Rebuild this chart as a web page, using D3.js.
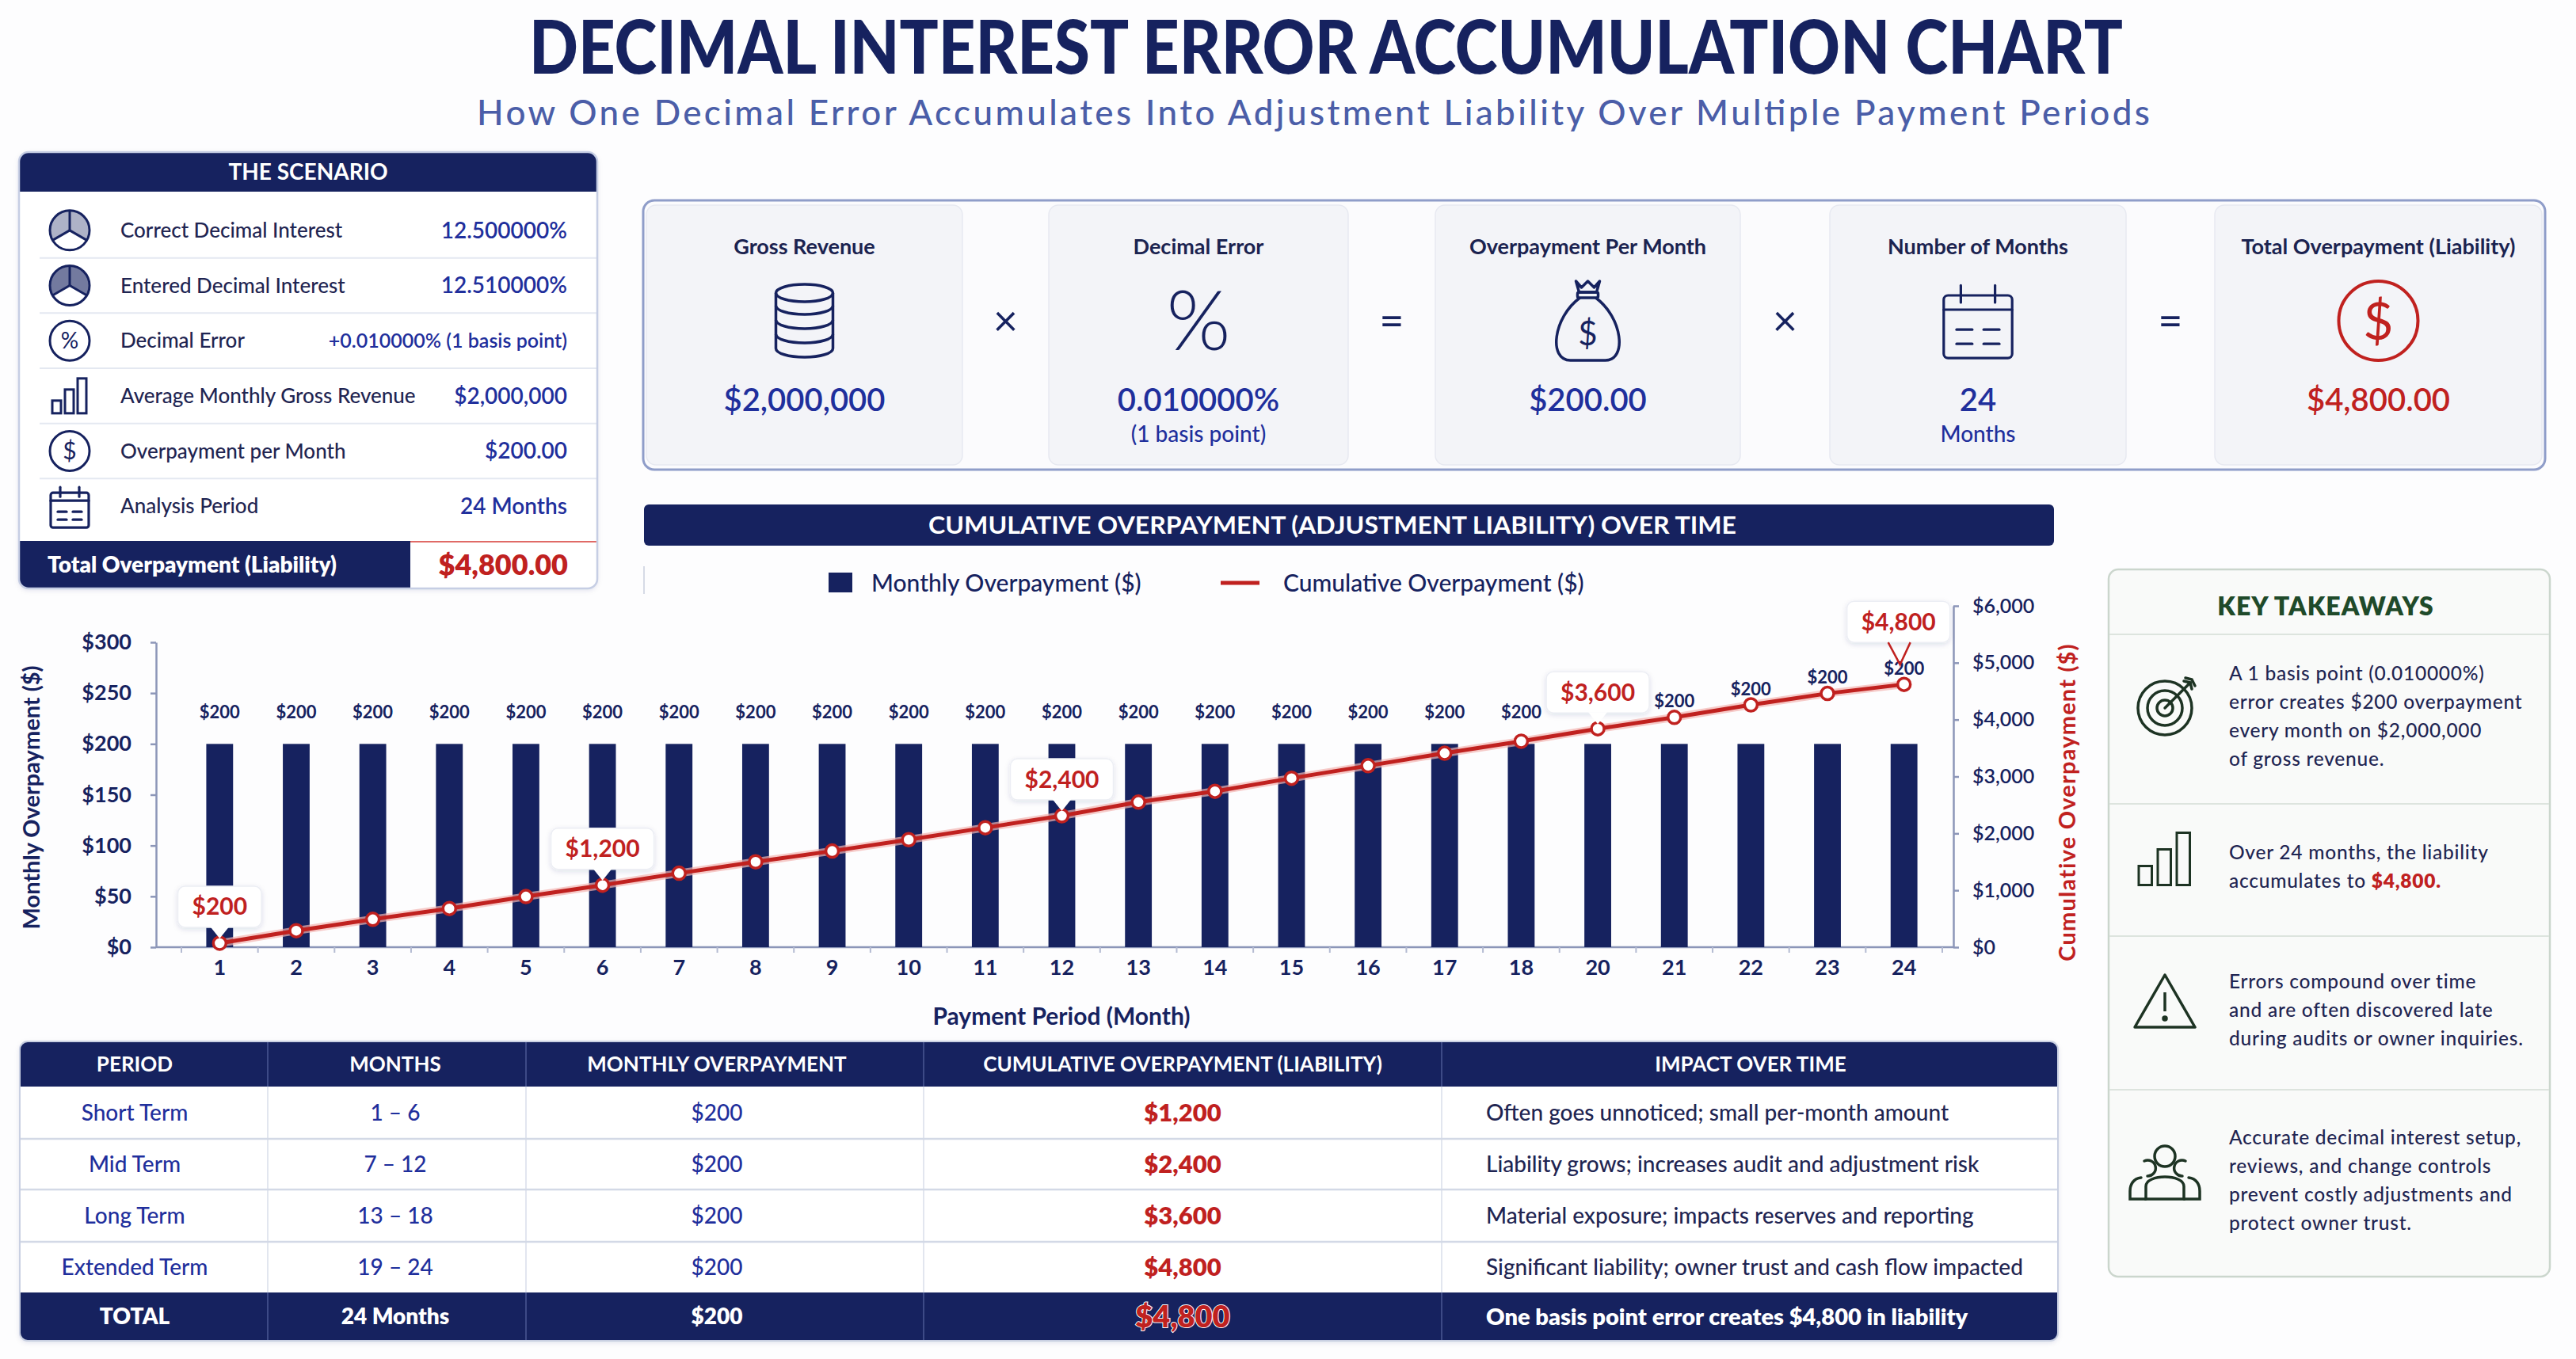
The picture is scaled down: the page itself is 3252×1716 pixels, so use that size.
<!DOCTYPE html>
<html>
<head>
<meta charset="utf-8">
<script src="https://cdn.jsdelivr.net/npm/d3@7/dist/d3.min.js"></script>
<style>
  body { margin: 0; background: #fdfdfe; }
  svg { display: block; }
</style>
</head>
<body>
<script>
// ---- data ----
const titleText = "DECIMAL INTEREST ERROR ACCUMULATION CHART";
const subtitleText = "How One Decimal Error Accumulates Into Adjustment Liability Over Multiple Payment Periods";

const scenarioLabels = ["Correct Decimal Interest", "Entered Decimal Interest", "Decimal Error",
  "Average Monthly Gross Revenue", "Overpayment per Month", "Analysis Period"];
const scenarioValues = ["12.500000%", "12.510000%", "+0.010000% (1 basis point)",
  "$2,000,000", "$200.00", "24 Months"];
const scenarioTotal = ["Total Overpayment (Liability)", "$4,800.00"];

const formulaTitles = ["Gross Revenue", "Decimal Error", "Overpayment Per Month", "Number of Months", "Total Overpayment (Liability)"];
const formulaValues = ["$2,000,000", "0.010000%", "$200.00", "24", "$4,800.00"];
const formulaNotes = ["", "(1 basis point)", "", "Months", ""];
const formulaOps = ["×", "=", "×", "="];

const chartTitle = "CUMULATIVE OVERPAYMENT (ADJUSTMENT LIABILITY) OVER TIME";
const months = ["1","2","3","4","5","6","7","8","9","10","11","12","13","14","15","16","17","18","20","21","22","23","24"];
const monthlyOverpayment = [200,200,200,200,200,200,200,200,200,200,200,200,200,200,200,200,200,200,200,200,200,200,200];
const cumulativeOverpayment = [70,290,490,680,890,1090,1300,1500,1690,1890,2100,2310,2550,2740,2970,3190,3410,3620,3840,4040,4260,4460,4620];
const calloutMonths = ["1","6","12","20","24"];
const calloutLabels = ["$200","$1,200","$2,400","$3,600","$4,800"];
const leftTicks = [0,50,100,150,200,250,300];
const rightTicks = [0,1000,2000,3000,4000,5000,6000];
const seriesNames = ["Monthly Overpayment ($)", "Cumulative Overpayment ($)"];

const takeawayLines = [
  ["A 1 basis point (0.010000%)", "error creates $200 overpayment", "every month on $2,000,000", "of gross revenue."],
  ["Over 24 months, the liability", "accumulates to $4,800."],
  ["Errors compound over time", "and are often discovered late", "during audits or owner inquiries."],
  ["Accurate decimal interest setup,", "reviews, and change controls", "prevent costly adjustments and", "protect owner trust."]
];
const takeawayHighlight = "$4,800.";

const tableHeaders = ["PERIOD", "MONTHS", "MONTHLY OVERPAYMENT", "CUMULATIVE OVERPAYMENT (LIABILITY)", "IMPACT OVER TIME"];
const tablePeriods = ["Short Term", "Mid Term", "Long Term", "Extended Term"];
const tableMonths = ["1 – 6", "7 – 12", "13 – 18", "19 – 24"];
const tableMonthly = ["$200", "$200", "$200", "$200"];
const tableCumulative = ["$1,200", "$2,400", "$3,600", "$4,800"];
const tableImpact = ["Often goes unnoticed; small per-month amount",
  "Liability grows; increases audit and adjustment risk",
  "Material exposure; impacts reserves and reporting",
  "Significant liability; owner trust and cash flow impacted"];
const tableTotal = ["TOTAL", "24 Months", "$200", "$4,800", "One basis point error creates $4,800 in liability"];

// ---- styles ----
const NAVY = "#16225f";
const BLUE = "#1f2f9c";
const INK = "#1f2552";
const RED = "#c0211f";
const GREEN = "#1f4a2a";
const FONT = "Lato, 'Noto Sans', sans-serif";

const svg = d3.select("body").append("svg")
  .attr("width", 3252).attr("height", 1716)
  .style("font-family", FONT);
svg.append("rect").attr("width", 3252).attr("height", 1716).attr("fill", "#fdfdfe");

const defs = svg.append("defs");
defs.append("filter").attr("id", "shadow").attr("x", "-20%").attr("y", "-20%").attr("width", "140%").attr("height", "140%")
  .append("feDropShadow").attr("dx", 0).attr("dy", 2).attr("stdDeviation", 3)
  .attr("flood-color", "#1a2366").attr("flood-opacity", 0.13);

function txt(g, x, y, s, size, weight, fill, anchor) {
  return g.append("text").attr("x", x).attr("y", y).attr("dy", "0.35em")
    .attr("font-size", size).attr("font-weight", weight).attr("fill", fill)
    .attr("text-anchor", anchor || "start").text(s);
}

// ---- icons ----
function iconPie(g, cx, cy, r, shade) {
  const t = g.append("g").attr("transform", `translate(${cx},${cy})`);
  const arc = d3.arc().innerRadius(0).outerRadius(r);
  t.append("path").attr("d", arc({ startAngle: -2 * Math.PI / 3, endAngle: 2 * Math.PI / 3 }))
    .attr("fill", NAVY).attr("fill-opacity", shade);
  t.append("circle").attr("r", r).attr("fill", "none").attr("stroke", NAVY).attr("stroke-width", 3);
  [0, 2 * Math.PI / 3, -2 * Math.PI / 3].forEach(a =>
    t.append("line").attr("x2", r * Math.sin(a)).attr("y2", -r * Math.cos(a))
      .attr("stroke", NAVY).attr("stroke-width", 3));
}
function iconCircleGlyph(g, cx, cy, r, glyph, color, fs, sw) {
  g.append("circle").attr("cx", cx).attr("cy", cy).attr("r", r)
    .attr("fill", "none").attr("stroke", color).attr("stroke-width", sw);
  g.append("text").attr("x", cx).attr("y", cy).attr("dy", "0.36em").attr("text-anchor", "middle")
    .attr("font-size", fs).attr("font-weight", 400).attr("fill", color).text(glyph);
}
function iconBars(g, cx, cy, s, color) {
  const t = g.append("g").attr("transform", `translate(${cx},${cy}) scale(${s})`);
  [[-22, 6, 16], [-6, -8, 30], [10, -22, 44]].forEach(([x0, y0, h]) =>
    t.append("rect").attr("x", x0).attr("y", y0).attr("width", 11).attr("height", h)
      .attr("fill", "none").attr("stroke", color).attr("stroke-width", 3 / s));
}
function iconCalendar(g, cx, cy, s, color) {
  const t = g.append("g").attr("transform", `translate(${cx},${cy}) scale(${s})`)
    .attr("fill", "none").attr("stroke", color).attr("stroke-width", 3.2 / s).attr("stroke-linecap", "round");
  t.append("rect").attr("x", -24).attr("y", -20).attr("width", 48).attr("height", 44).attr("rx", 3);
  t.append("line").attr("x1", -24).attr("x2", 24).attr("y1", -10).attr("y2", -10);
  [-12, 12].forEach(v => t.append("line").attr("x1", v).attr("x2", v).attr("y1", -27).attr("y2", -15));
  [4, 14].forEach(v => {
    t.append("line").attr("x1", -15).attr("x2", -4).attr("y1", v).attr("y2", v);
    t.append("line").attr("x1", 4).attr("x2", 15).attr("y1", v).attr("y2", v);
  });
}
function iconDatabase(g, cx, cy, color) {
  const t = g.append("g").attr("transform", `translate(${cx},${cy})`)
    .attr("fill", "none").attr("stroke", color).attr("stroke-width", 3.5);
  t.append("ellipse").attr("cx", 0).attr("cy", -35).attr("rx", 36).attr("ry", 11);
  [-17, 1, 19, 37].forEach(v => t.append("path").attr("d", `M-36,${v - 2} A36 11 0 0 0 36,${v - 2}`));
  t.append("line").attr("x1", -36).attr("x2", -36).attr("y1", -35).attr("y2", 35);
  t.append("line").attr("x1", 36).attr("x2", 36).attr("y1", -35).attr("y2", 35);
}
function iconBag(g, cx, cy, color) {
  const t = g.append("g").attr("transform", `translate(${cx},${cy})`)
    .attr("fill", "none").attr("stroke", color).attr("stroke-width", 3.5).attr("stroke-linejoin", "round");
  t.append("path").attr("d", "M-15,-50 L-8,-42 L0,-50 L8,-42 L15,-50 L11,-36 L-11,-36 Z");
  t.append("rect").attr("x", -13).attr("y", -36).attr("width", 26).attr("height", 7).attr("rx", 2);
  t.append("path").attr("d", "M-10,-29 C-44,-4 -50,50 -22,50 L22,50 C50,50 44,-4 10,-29");
  t.append("text").attr("x", 0).attr("y", 16).attr("dy", "0.36em").attr("text-anchor", "middle")
    .attr("stroke", "none").attr("fill", color).attr("font-size", 42).text("$");
}
function iconTarget(g, cx, cy, color) {
  const t = g.append("g").attr("transform", `translate(${cx},${cy})`)
    .attr("fill", "none").attr("stroke", color).attr("stroke-width", 3.5).attr("stroke-linecap", "round");
  [34, 22, 10].forEach(r => t.append("circle").attr("r", r));
  t.append("line").attr("x1", 0).attr("y1", 0).attr("x2", 32).attr("y2", -32);
  t.append("path").attr("d", "M24,-34 L32,-32 L34,-24 M26,-38 L34,-36 L38,-28");
}
function iconWarning(g, cx, cy, color) {
  const t = g.append("g").attr("transform", `translate(${cx},${cy})`)
    .attr("fill", "none").attr("stroke", color).attr("stroke-width", 3.5).attr("stroke-linejoin", "round");
  t.append("path").attr("d", "M0,-34 L38,32 L-38,32 Z");
  t.append("line").attr("x1", 0).attr("x2", 0).attr("y1", -12).attr("y2", 12);
  t.append("circle").attr("cx", 0).attr("cy", 21).attr("r", 2).attr("fill", color);
}
function iconPeople(g, cx, cy, color) {
  const t = g.append("g").attr("transform", `translate(${cx},${cy})`)
    .attr("fill", "none").attr("stroke", color).attr("stroke-width", 3.5).attr("stroke-linecap", "round");
  t.append("circle").attr("cx", 0).attr("cy", -20).attr("r", 13);
  t.append("path").attr("d", "M-24,34 L-24,18 C-24,2 24,2 24,18 L24,34 Z");
  t.append("path").attr("d", "M-26,-14 A10,10 0 1 1 -22,5");
  t.append("path").attr("d", "M26,-14 A10,10 0 1 0 22,5");
  t.append("path").attr("d", "M-30,7 C-40,8 -44,16 -44,24 L-44,34 L-24,34");
  t.append("path").attr("d", "M30,7 C40,8 44,16 44,24 L44,34 L24,34");
}

// ---- title ----
svg.append("text").attr("x", 1674).attr("y", 93).attr("text-anchor", "middle")
  .attr("font-size", 93).attr("font-weight", 900).attr("fill", NAVY)
  .attr("textLength", 2012).attr("lengthAdjust", "spacingAndGlyphs").text(titleText);
svg.append("text").attr("x", 1658).attr("y", 158).attr("text-anchor", "middle")
  .attr("font-size", 44).attr("font-weight", 500).attr("fill", "#4b5ea8")
  .attr("textLength", 2112).attr("lengthAdjust", "spacing").text(subtitleText);

// ---- scenario panel ----
const scen = svg.append("g");
defs.append("clipPath").attr("id", "scenClip").append("rect")
  .attr("x", 24).attr("y", 192).attr("width", 730).attr("height", 551).attr("rx", 12);
scen.append("rect").attr("x", 24).attr("y", 192).attr("width", 730).attr("height", 551).attr("rx", 12)
  .attr("fill", "#fff").attr("filter", "url(#shadow)");
const sc = scen.append("g").attr("clip-path", "url(#scenClip)");
sc.append("rect").attr("x", 24).attr("y", 192).attr("width", 730).attr("height", 50).attr("fill", NAVY);
txt(sc, 389, 217, "THE SCENARIO", 28, 700, "#fff", "middle");
const rowY = d3.scaleBand().domain(d3.range(scenarioLabels.length)).range([256, 674]);
const scenarioIcons = [
  (g, x, y) => iconPie(g, x, y, 25, 0.35),
  (g, x, y) => iconPie(g, x, y, 25, 0.6),
  (g, x, y) => iconCircleGlyph(g, x, y, 25, "%", NAVY, 28, 3),
  (g, x, y) => iconBars(g, x, y, 1, NAVY),
  (g, x, y) => iconCircleGlyph(g, x, y, 25, "$", NAVY, 30, 3),
  (g, x, y) => iconCalendar(g, x, y + 3, 1, NAVY)
];
scenarioLabels.forEach((lab, i) => {
  const cy = rowY(i) + rowY.bandwidth() / 2;
  if (i > 0) sc.append("line").attr("x1", 50).attr("x2", 754).attr("y1", rowY(i)).attr("y2", rowY(i))
    .attr("stroke", "#e4e8f1").attr("stroke-width", 2);
  scenarioIcons[i](sc, 88, cy);
  txt(sc, 152, cy, lab, 26, 500, INK);
  txt(sc, 716, cy, scenarioValues[i], i === 2 ? 25 : 28, 600, BLUE, "end");
});
sc.append("rect").attr("x", 24).attr("y", 683).attr("width", 494).attr("height", 60).attr("fill", NAVY);
sc.append("line").attr("x1", 518).attr("x2", 754).attr("y1", 684).attr("y2", 684).attr("stroke", "#e06a66").attr("stroke-width", 2);
txt(sc, 60, 713, scenarioTotal[0], 28, 800, "#fff");
txt(sc, 717, 713, scenarioTotal[1], 36, 800, RED, "end");
scen.append("rect").attr("x", 24).attr("y", 192).attr("width", 730).attr("height", 551).attr("rx", 12)
  .attr("fill", "none").attr("stroke", "#c6cee4").attr("stroke-width", 2.5);

// ---- formula panel ----
const fp = svg.append("g");
fp.append("rect").attr("x", 812).attr("y", 253).attr("width", 2401).attr("height", 340).attr("rx", 14)
  .attr("fill", "#fbfbfd").attr("stroke", "#8f9dc9").attr("stroke-width", 3);
const cardX = [[816, 1215], [1324, 1702], [1812, 2197], [2310, 2684], [2796, 3209]];
const cardIcons = [
  (g, x, y) => iconDatabase(g, x, y, NAVY),
  (g, x, y) => g.append("text").attr("x", x).attr("y", y).attr("dy", "0.36em").attr("text-anchor", "middle")
    .attr("font-size", 104).attr("font-weight", 300).attr("fill", NAVY).text("%"),
  (g, x, y) => iconBag(g, x, y, NAVY),
  (g, x, y) => iconCalendar(g, x, y + 4, 1.8, NAVY),
  (g, x, y) => iconCircleGlyph(g, x, y, 50, "$", RED, 66, 4)
];
cardX.forEach(([x0, x1], i) => {
  const cx = (x0 + x1) / 2;
  fp.append("rect").attr("x", x0).attr("y", 259).attr("width", x1 - x0).attr("height", 328).attr("rx", 12)
    .attr("fill", "#f3f4f8").attr("stroke", "#e7e9f1").attr("stroke-width", 1.5);
  txt(fp, cx, 312, formulaTitles[i], 27, 700, "#1b2350", "middle");
  cardIcons[i](fp, cx, 405);
  txt(fp, cx, 505, formulaValues[i], 40, 600, i === 4 ? RED : BLUE, "middle");
  if (formulaNotes[i]) txt(fp, cx, 548, formulaNotes[i], 28, 500, BLUE, "middle");
  if (i < formulaOps.length) {
    const ox = (x1 + cardX[i + 1][0]) / 2;
    txt(fp, ox, 405, formulaOps[i], 54, 400, NAVY, "middle");
  }
});

// ---- chart ----
const ch = svg.append("g");
ch.append("rect").attr("x", 813).attr("y", 637).attr("width", 1780).attr("height", 52).attr("rx", 6).attr("fill", NAVY);
svg.append("text").attr("x", 1682).attr("y", 663).attr("dy", "0.35em").attr("text-anchor", "middle")
  .attr("font-size", 30).attr("font-weight", 700).attr("fill", "#fff")
  .attr("textLength", 1020).attr("lengthAdjust", "spacingAndGlyphs").text(chartTitle);
ch.append("line").attr("x1", 813).attr("x2", 813).attr("y1", 715).attr("y2", 750).attr("stroke", "#d6dae6").attr("stroke-width", 2);

// legend
ch.append("rect").attr("x", 1046).attr("y", 723).attr("width", 30).attr("height", 25).attr("fill", NAVY);
txt(ch, 1100, 736, seriesNames[0], 30, 500, NAVY);
ch.append("line").attr("x1", 1541).attr("x2", 1590).attr("y1", 736).attr("y2", 736).attr("stroke", RED).attr("stroke-width", 5);
txt(ch, 1620, 736, seriesNames[1], 30, 500, NAVY);

const x = d3.scaleBand().domain(months).range([229, 2452]).paddingInner(0.65).paddingOuter(0.325);
const yL = d3.scaleLinear().domain([0, 300]).range([1196, 811]);
const yR = d3.scaleLinear().domain([0, 6000]).range([1196, 765]);
const mid = m => x(m) + x.bandwidth() / 2;
const rows = months.map((m, i) => ({ m, v: monthlyOverpayment[i], c: cumulativeOverpayment[i] }));

const AXIS = "#8c96b8";
function styleAxis(g, size, weight) {
  g.attr("font-family", FONT).attr("font-size", size);
  g.select(".domain").attr("stroke", AXIS).attr("stroke-width", 2.5);
  g.selectAll(".tick line").attr("stroke", AXIS).attr("stroke-width", 2.5);
  g.selectAll(".tick text").attr("fill", NAVY).attr("font-weight", weight);
}
const gl = ch.append("g").attr("transform", "translate(197,0)")
  .call(d3.axisLeft(yL).tickValues(leftTicks).tickFormat(d => "$" + d).tickSize(7).tickSizeOuter(0).tickPadding(24));
styleAxis(gl, 27, 700);
const gr = ch.append("g").attr("transform", "translate(2466,0)")
  .call(d3.axisRight(yR).tickValues(rightTicks).tickFormat(d => "$" + d3.format(",")(d)).tickSize(7).tickSizeOuter(0).tickPadding(17));
styleAxis(gr, 25, 600);

// baseline + month labels
ch.append("line").attr("x1", 197).attr("x2", 2466).attr("y1", yL(0)).attr("y2", yL(0)).attr("stroke", AXIS).attr("stroke-width", 2.5);
const gx = ch.append("g").attr("transform", `translate(0,${yL(0)})`)
  .call(d3.axisBottom(x).tickSize(0).tickPadding(16));
gx.select(".domain").remove();
gx.attr("font-family", FONT).attr("font-size", 27);
gx.selectAll(".tick text").attr("fill", NAVY).attr("font-weight", 700);
const sepX = i => x.range()[0] + x.step() * (x.paddingOuter() - x.paddingInner() / 2) + i * x.step();
ch.selectAll(".sep").data(months.concat([null])).join("line")
  .attr("x1", (d, i) => sepX(i)).attr("x2", (d, i) => sepX(i))
  .attr("y1", yL(0)).attr("y2", yL(0) + 7).attr("stroke", "#b4bbd2").attr("stroke-width", 2);

// axis titles
ch.append("text").attr("transform", `translate(40,1007) rotate(-90)`).attr("dy", "0.35em").attr("text-anchor", "middle")
  .attr("font-size", 29).attr("font-weight", 700).attr("fill", NAVY).text(seriesNames[0]);
ch.append("text").attr("transform", `translate(2610,1013) rotate(-90)`).attr("dy", "0.35em").attr("text-anchor", "middle")
  .attr("font-size", 29).attr("font-weight", 700).attr("fill", RED).attr("letter-spacing", 1.2).text(seriesNames[1]);
txt(ch, 1340, 1283, "Payment Period (Month)", 30, 700, NAVY, "middle");

// bars
ch.selectAll(".bar").data(rows).join("rect")
  .attr("x", d => x(d.m)).attr("width", x.bandwidth())
  .attr("y", d => yL(d.v)).attr("height", d => yL(0) - yL(d.v))
  .attr("fill", NAVY);

// callout geometry (box sits above the point)
const callouts = calloutMonths.map((m, i) => {
  const d = rows[months.indexOf(m)];
  const last = i === calloutMonths.length - 1;
  const bottom = yR(d.c) - (last ? 53 : 20);
  return { m, label: calloutLabels[i], last, px: mid(m), bottom };
});
const barLabelY = d => Math.min(yL(d.v) - 40, yR(d.c) - 20);
const hiddenByCallout = d => callouts.some(c => c.m === d.m && barLabelY(d) > c.bottom - 64 && barLabelY(d) < c.bottom + 12);
ch.selectAll(".blab").data(rows.filter(d => !hiddenByCallout(d))).join("text")
  .attr("x", d => mid(d.m)).attr("y", barLabelY).attr("dy", "0.35em")
  .attr("text-anchor", "middle").attr("font-size", 22).attr("font-weight", 700).attr("fill", NAVY)
  .text(d => "$" + d.v);

// cumulative line
const line = d3.line().x(d => mid(d.m)).y(d => yR(d.c));
ch.append("path").datum(rows).attr("d", line).attr("fill", "none")
  .attr("stroke", "#f2b3b1").attr("stroke-width", 10).attr("stroke-opacity", 0.7);
ch.append("path").datum(rows).attr("d", line).attr("fill", "none")
  .attr("stroke", RED).attr("stroke-width", 5).attr("stroke-linejoin", "round");
ch.selectAll(".pt").data(rows).join("circle")
  .attr("cx", d => mid(d.m)).attr("cy", d => yR(d.c)).attr("r", 8)
  .attr("fill", "#fff").attr("stroke", RED).attr("stroke-width", 3.5);

// callouts
callouts.forEach(c => {
  const g = ch.append("g");
  const bx = c.px - (c.last ? 7 : 0);
  const t = g.append("text").attr("x", bx).attr("y", c.bottom - 26).attr("dy", "0.35em")
    .attr("text-anchor", "middle").attr("font-size", 30).attr("font-weight", 700).attr("fill", RED)
    .text(c.label);
  const w = t.node().getComputedTextLength() + 36;
  g.insert("rect", "text").attr("x", bx - w / 2).attr("y", c.bottom - 52)
    .attr("width", w).attr("height", 52).attr("rx", 9)
    .attr("fill", "#fff").attr("stroke", "#eceef4").attr("stroke-width", 1.5).attr("filter", "url(#shadow)");
  if (c.last) {
    g.append("path").attr("d", `M${c.px - 20},${c.bottom} L${c.px - 5},${c.bottom + 28} L${c.px + 8},${c.bottom}`)
      .attr("fill", "none").attr("stroke", RED).attr("stroke-width", 2.5);
  } else {
    g.append("path").attr("d", `M${c.px - 12},${c.bottom - 1} L${c.px + 12},${c.bottom - 1} L${c.px},${c.bottom + 14} Z`)
      .attr("fill", "#fff");
  }
});

// ---- key takeaways ----
const kt = svg.append("g");
kt.append("rect").attr("x", 2662).attr("y", 719).attr("width", 557).attr("height", 893).attr("rx", 12)
  .attr("fill", "#f9faf9").attr("stroke", "#cbd6cd").attr("stroke-width", 2.5);
txt(kt, 2936, 766, "KEY TAKEAWAYS", 32, 800, GREEN, "middle").attr("letter-spacing", 1);
const sectionY = [801, 1015, 1182, 1376, 1612];
const takeawayIcons = [iconTarget, (g, x, y, c) => iconBars(g, x, y, 1.5, c), iconWarning, iconPeople];
takeawayLines.forEach((lines, i) => {
  const y0 = sectionY[i], y1 = sectionY[i + 1];
  const cy = (y0 + y1) / 2 - 4;
  kt.append("line").attr("x1", 2663).attr("x2", 3218).attr("y1", y0).attr("y2", y0)
    .attr("stroke", "#dde4de").attr("stroke-width", 2);
  takeawayIcons[i](kt, 2733, cy - 10, "#1d3323");
  lines.forEach((s, j) => {
    const ly = cy + (j - (lines.length - 1) / 2) * 36;
    const t = kt.append("text").attr("x", 2814).attr("y", ly).attr("dy", "0.35em")
      .attr("font-size", 24.5).attr("font-weight", 500).attr("fill", INK).attr("letter-spacing", 0.75);
    const k = s.indexOf(takeawayHighlight);
    if (k >= 0) {
      t.append("tspan").text(s.slice(0, k));
      t.append("tspan").attr("fill", RED).attr("font-weight", 800).text(takeawayHighlight);
    } else t.text(s);
  });
});

// ---- table ----
const colX = [25, 338, 664, 1166, 1820, 2598];
const colText = [170, 499, 905, 1493, 2210];
const rowB = [1315, 1372, 1438, 1502, 1568, 1632, 1693];
const tb = svg.append("g");
defs.append("clipPath").attr("id", "tabClip").append("rect")
  .attr("x", colX[0]).attr("y", rowB[0]).attr("width", colX[5] - colX[0]).attr("height", rowB[6] - rowB[0]).attr("rx", 10);
tb.append("rect").attr("x", colX[0]).attr("y", rowB[0]).attr("width", colX[5] - colX[0]).attr("height", rowB[6] - rowB[0])
  .attr("rx", 10).attr("fill", "#fff").attr("filter", "url(#shadow)");
const tc = tb.append("g").attr("clip-path", "url(#tabClip)");
tc.append("rect").attr("x", colX[0]).attr("y", rowB[0]).attr("width", colX[5] - colX[0]).attr("height", rowB[1] - rowB[0]).attr("fill", NAVY);
tc.append("rect").attr("x", colX[0]).attr("y", rowB[5]).attr("width", colX[5] - colX[0]).attr("height", rowB[6] - rowB[5]).attr("fill", NAVY);
// grid lines
colX.slice(1, 5).forEach(cx => {
  tc.append("line").attr("x1", cx).attr("x2", cx).attr("y1", rowB[0]).attr("y2", rowB[1]).attr("stroke", "#3d4a86").attr("stroke-width", 2);
  tc.append("line").attr("x1", cx).attr("x2", cx).attr("y1", rowB[1]).attr("y2", rowB[5]).attr("stroke", "#d9deea").attr("stroke-width", 1.5);
  tc.append("line").attr("x1", cx).attr("x2", cx).attr("y1", rowB[5]).attr("y2", rowB[6]).attr("stroke", "#3d4a86").attr("stroke-width", 2);
});
rowB.slice(2, 5).forEach(ry => tc.append("line").attr("x1", colX[0]).attr("x2", colX[5]).attr("y1", ry).attr("y2", ry)
  .attr("stroke", "#d3d9e6").attr("stroke-width", 2.5));
tableHeaders.forEach((h, i) => txt(tc, colText[i], (rowB[0] + rowB[1]) / 2, h, 26, 700, "#fff", "middle"));
tablePeriods.forEach((p, r) => {
  const cy = (rowB[r + 1] + rowB[r + 2]) / 2;
  txt(tc, colText[0], cy, p, 28, 500, BLUE, "middle");
  txt(tc, colText[1], cy, tableMonths[r], 28, 500, BLUE, "middle");
  txt(tc, colText[2], cy, tableMonthly[r], 28, 500, BLUE, "middle");
  txt(tc, colText[3], cy, tableCumulative[r], 31, 800, RED, "middle");
  txt(tc, 1876, cy, tableImpact[r], 28, 500, INK);
});
const ty = (rowB[5] + rowB[6]) / 2;
txt(tc, colText[0], ty, tableTotal[0], 28, 800, "#fff", "middle");
txt(tc, colText[1], ty, tableTotal[1], 28, 800, "#fff", "middle");
txt(tc, colText[2], ty, tableTotal[2], 28, 800, "#fff", "middle");
txt(tc, colText[3], ty, tableTotal[3], 38, 800, RED, "middle")
  .attr("stroke", "#fff").attr("stroke-width", 2).attr("paint-order", "stroke");
txt(tc, 1876, ty, tableTotal[4], 29, 800, "#fff");
tb.append("rect").attr("x", colX[0]).attr("y", rowB[0]).attr("width", colX[5] - colX[0]).attr("height", rowB[6] - rowB[0])
  .attr("rx", 10).attr("fill", "none").attr("stroke", "#c9d0e2").attr("stroke-width", 2);
</script>
</body>
</html>
